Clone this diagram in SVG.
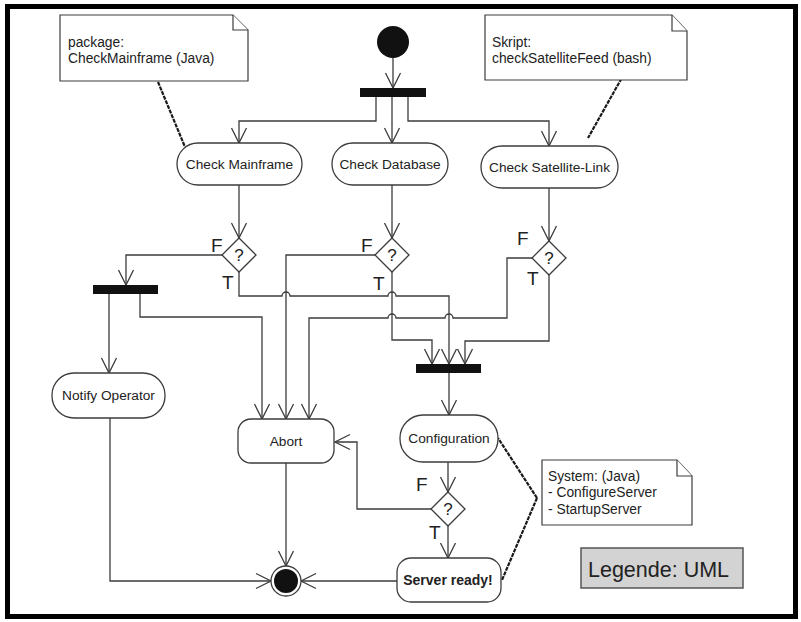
<svg xmlns="http://www.w3.org/2000/svg" width="801" height="622" viewBox="0 0 801 622">
  <style>
    .node { fill: #ffffff; stroke: #3c3c3c; stroke-width: 1.3; }
    .bar { fill: #111111; }
    .lbl { font-family: "Liberation Sans", Arial, sans-serif; font-size: 13.7px; fill: #222; text-anchor: middle; }
    .note { fill: #ffffff; stroke: #3c3c3c; stroke-width: 1.2; }
    .ntxt { font-family: "Liberation Sans", Arial, sans-serif; font-size: 13.8px; fill: #222; }
    .ft { font-family: "Liberation Sans", Arial, sans-serif; font-size: 19px; fill: #222; }
    .q { font-family: "Liberation Sans", Arial, sans-serif; font-size: 17px; fill: #222; text-anchor: middle; }
    .edge { fill: none; stroke: #3c3c3c; stroke-width: 1.3; marker-end: url(#arr); }
    .anchor { fill: none; stroke: #1a1a1a; stroke-width: 2.2; stroke-dasharray: 4 1; }
  </style>
  <defs>
    <marker id="arr" viewBox="-16 -9 18 18" refX="0" refY="0" markerWidth="18" markerHeight="18" orient="auto" markerUnits="userSpaceOnUse">
      <path d="M-15,-7.5 L0,0 L-15,7.5" fill="none" stroke="#3c3c3c" stroke-width="1.3"/>
    </marker>
  </defs>

  <rect x="0" y="0" width="801" height="622" fill="#ffffff"/>
  <!-- outer frame -->
  <rect x="7.5" y="6.5" width="788" height="610" fill="none" stroke="#000" stroke-width="5"/>

  <!-- connectors -->
  <g id="connectors">
    <path class="edge" d="M393,58 V88"/>
    <path class="edge" d="M376,97 V121 H239 V143"/>
    <path class="edge" d="M392,97 V143"/>
    <path class="edge" d="M408,97 V121 H549 V146"/>

    <path class="edge" d="M239,185 V238"/>
    <path class="edge" d="M392,185 V238"/>
    <path class="edge" d="M549,188 V241"/>

    <!-- check mainframe decision -->
    <path class="edge" d="M222,255 H126 V285"/>
    <path class="edge" d="M239,272 V296 H282 A4,4 0 0 1 290,296 H388 A4,4 0 0 1 396,296 H449 V364"/>

    <!-- check database decision -->
    <path class="edge" d="M375,255 H286 V419"/>
    <path class="edge" d="M392,272 V340 H432 V364"/>

    <!-- satellite decision -->
    <path class="edge" d="M532,258 H507 V318 H453 A4,4 0 0 0 445,318 H396 A4,4 0 0 0 388,318 H309 V419"/>
    <path class="edge" d="M549,275 V341 H465 V364"/>

    <!-- left fork -->
    <path class="edge" d="M109,294 V373"/>
    <path class="edge" d="M140,294 V317 H262 V419"/>

    <!-- join to configuration -->
    <path class="edge" d="M449,373 V415"/>
    <path class="edge" d="M448,462 V492"/>
    <path class="edge" d="M431,509 H357 V442 H335"/>
    <path class="edge" d="M448,526 V558"/>

    <!-- into final node -->
    <path class="edge" d="M286,463 V566"/>
    <path class="edge" d="M110,418 V581 H271"/>
    <path class="edge" d="M397,581 H301"/>

    <!-- note anchors -->
    <path class="anchor" d="M158,82 L185,147"/>
    <path class="anchor" d="M624,74 L588,138"/>
    <path class="anchor" d="M537,498 L498,438"/>
    <path class="anchor" d="M537,498 L502,580"/>
  </g>

  <!-- start -->
  <g id="start">
    <circle cx="393" cy="42" r="16" fill="#111"/>
  </g>

  <g id="fork-main"><rect class="bar" x="360" y="88" width="66" height="9"/></g>
  <g id="fork-left"><rect class="bar" x="93" y="285" width="65" height="9"/></g>
  <g id="join"><rect class="bar" x="416" y="364" width="65" height="9"/></g>

  <g id="check-mainframe">
    <rect class="node" x="177" y="143" width="125" height="42" rx="21"/>
    <text class="lbl" x="239.5" y="169">Check Mainframe</text>
  </g>
  <g id="check-database">
    <rect class="node" x="332" y="143" width="116" height="42" rx="21"/>
    <text class="lbl" x="390" y="169">Check Database</text>
  </g>
  <g id="check-satellite">
    <rect class="node" x="481" y="146" width="137" height="42" rx="21"/>
    <text class="lbl" x="549.5" y="172">Check Satellite-Link</text>
  </g>

  <g id="decision-mainframe">
    <polygon class="node" points="239,238 256,255 239,272 222,255"/>
    <text class="q" x="239" y="261">?</text>
    <text class="ft" x="211" y="252">F</text>
    <text class="ft" x="222" y="289">T</text>
  </g>
  <g id="decision-database">
    <polygon class="node" points="392,238 409,255 392,272 375,255"/>
    <text class="q" x="392" y="261">?</text>
    <text class="ft" x="361" y="252">F</text>
    <text class="ft" x="373" y="290">T</text>
  </g>
  <g id="decision-satellite">
    <polygon class="node" points="549,241 566,258 549,275 532,258"/>
    <text class="q" x="549" y="264">?</text>
    <text class="ft" x="517" y="245">F</text>
    <text class="ft" x="527" y="285">T</text>
  </g>

  <g id="notify-operator">
    <rect class="node" x="52" y="373" width="113" height="45" rx="22"/>
    <text class="lbl" x="108.5" y="400">Notify Operator</text>
  </g>
  <g id="abort">
    <rect class="node" x="238" y="419" width="96" height="44" rx="13"/>
    <text class="lbl" x="286" y="446">Abort</text>
  </g>
  <g id="configuration">
    <rect class="node" x="400" y="415" width="98" height="47" rx="23"/>
    <text class="lbl" x="449" y="443">Configuration</text>
  </g>
  <g id="decision-config">
    <polygon class="node" points="448,492 465,509 448,526 431,509"/>
    <text class="q" x="448" y="515">?</text>
    <text class="ft" x="416" y="491">F</text>
    <text class="ft" x="429" y="539">T</text>
  </g>
  <g id="server-ready">
    <rect class="node" x="397" y="558" width="104" height="44" rx="14"/>
    <text class="lbl" x="448" y="585" font-weight="bold" style="font-size:14px">Server ready!</text>
  </g>

  <g id="final">
    <circle cx="286" cy="581" r="15" fill="#fff" stroke="#3c3c3c" stroke-width="1.3"/>
    <circle cx="286" cy="581" r="12" fill="#111"/>
  </g>

  <g id="note-mainframe">
    <path class="note" d="M60,15 H233 L248,30 V81 H60 Z"/>
    <path class="note" d="M233,15 V30 H248"/>
    <text class="ntxt" x="68" y="47">package:</text>
    <text class="ntxt" x="68" y="63">CheckMainframe (Java)</text>
  </g>
  <g id="note-satellite">
    <path class="note" d="M485,15 H672 L687,31 V80 H485 Z"/>
    <path class="note" d="M672,15 V31 H687"/>
    <text class="ntxt" x="492" y="47">Skript:</text>
    <text class="ntxt" x="492" y="63">checkSatelliteFeed (bash)</text>
  </g>
  <g id="note-system">
    <path class="note" d="M542,460 H677 L692,476 V525 H542 Z"/>
    <path class="note" d="M677,460 V476 H692"/>
    <text class="ntxt" x="548" y="481">System: (Java)</text>
    <text class="ntxt" x="548" y="497">- ConfigureServer</text>
    <text class="ntxt" x="548" y="514">- StartupServer</text>
  </g>

  <g id="legend">
    <rect x="581" y="548" width="162" height="40" fill="#d3d3d3" stroke="#555" stroke-width="1.5"/>
    <text x="588" y="577" font-family="Liberation Sans, Arial, sans-serif" font-size="21.5" fill="#222">Legende: UML</text>
  </g>
</svg>
